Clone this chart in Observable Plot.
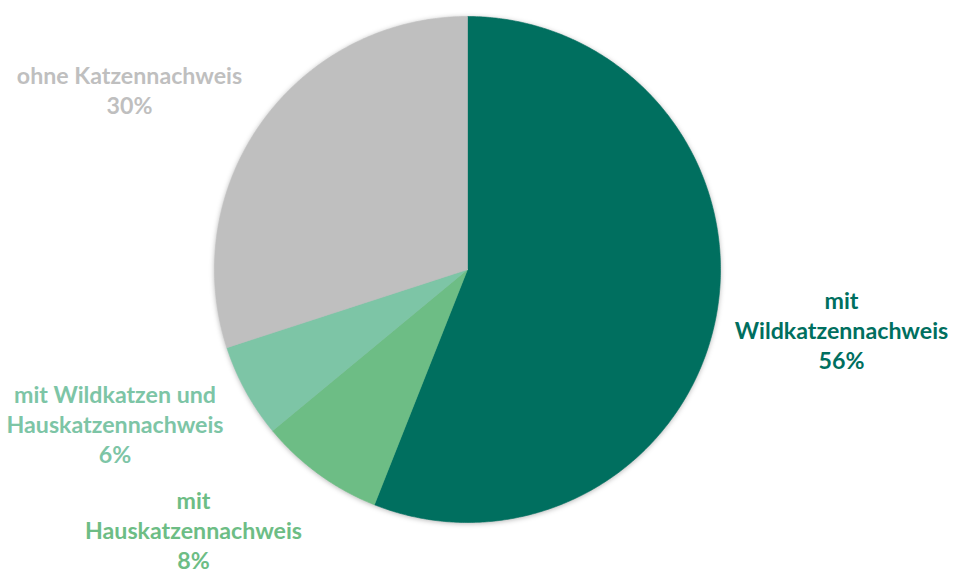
<!DOCTYPE html>
<html><head><meta charset="utf-8">
<script src="https://cdn.jsdelivr.net/npm/d3@7"></script>
<script src="https://cdn.jsdelivr.net/npm/@observablehq/plot@0.6"></script>
<style>html,body{margin:0;padding:0;background:#fff;} #chart svg{display:block;}</style>
</head><body><div id="chart"></div>
<script>
// Data
const categories = ["mit Wildkatzennachweis", "mit Hauskatzennachweis", "mit Wildkatzen und Hauskatzennachweis", "ohne Katzennachweis"];
const values = [56, 8, 6, 30];
const labelLines = [["mit", "Wildkatzennachweis"], ["mit", "Hauskatzennachweis"], ["mit Wildkatzen und", "Hauskatzennachweis"], ["ohne Katzennachweis"]];
const percentLabels = ["56%", "8%", "6%", "30%"];

// Styles / layout
const colors = ["#006f5f", "#6dbd85", "#7dc5a6", "#bfbfbf"];
const W = 953, H = 575, CX = 467, CY = 269, R = 253;
const labelPos = [[841, 329], [193, 528.5], [114.5, 423], [129, 89]];

const arcs = d3.pie().sort(null).value(d => d)(values);
const pts = [];
arcs.forEach((p, i) => {
  const n = Math.max(2, Math.ceil((p.endAngle - p.startAngle) / (Math.PI / 360)));
  pts.push({cat: categories[i], color: colors[i], x: CX, y: CY});
  for (let k = 0; k <= n; k++) {
    const a = p.startAngle + (p.endAngle - p.startAngle) * k / n;
    pts.push({cat: categories[i], color: colors[i], x: CX + R * Math.sin(a), y: CY - R * Math.cos(a)});
  }
  pts.push({cat: categories[i], color: colors[i], x: CX, y: CY});
});

const labels = categories.map((c, i) => ({
  text: labelLines[i].join("\n") + "\n" + percentLabels[i],
  x: labelPos[i][0], y: labelPos[i][1], color: colors[i]
}));

const svg = Plot.plot({
  width: W, height: H, margin: 0,
  x: {domain: [0, W], range: [0, W], axis: null},
  y: {domain: [0, H], range: [0, H], axis: null},
  color: {type: "identity"},
  marks: [
    Plot.line(pts, {x: "x", y: "y", z: "cat", fill: "color", stroke: "color", strokeWidth: 0.6}),
    Plot.text(labels, {x: "x", y: "y", text: "text", fill: "color", fontSize: 23.2, fontWeight: "bold", fontFamily: "Lato", lineHeight: 1.3, textAnchor: "middle"})
  ]
});
d3.select(svg).selectAll('g[aria-label="line"]').style("filter", "drop-shadow(0px 1px 2.5px rgba(0,0,0,0.28))");
document.getElementById("chart").appendChild(svg);
</script>
</body></html>
